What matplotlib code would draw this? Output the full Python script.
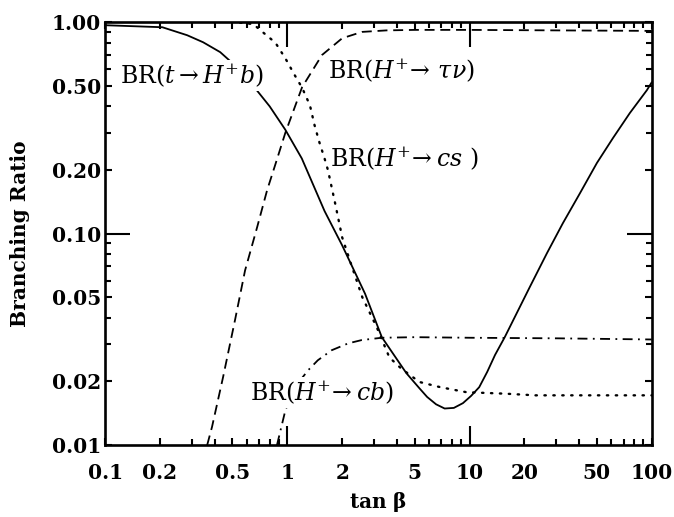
import numpy as np
import matplotlib
matplotlib.use("Agg")
import matplotlib.pyplot as plt
import matplotlib.ticker as ticker

plt.rcParams.update({
    "font.family": "DejaVu Serif",
    "mathtext.fontset": "dejavuserif",
})

# BR(t -> H+ b), solid
tanb_thb = [0.1, 0.206, 0.282, 0.345, 0.428, 0.55, 0.665, 0.8, 0.975, 1.2, 1.6, 2.0,
            2.67, 3.3, 4.5, 5.3, 5.85, 6.55, 7.3, 8.2, 9.2, 10.2, 11.3, 12.5, 13.8, 15.6,
            21.4, 26.6, 32.5, 40.3, 50.0, 61.2, 75.8, 94.0, 100]
br_thb = [0.968, 0.947, 0.868, 0.804, 0.722, 0.595, 0.488, 0.40, 0.31, 0.227, 0.128,
          0.088, 0.052, 0.0324, 0.0219, 0.0186, 0.0169, 0.0156, 0.0149, 0.0150, 0.0158,
          0.0171, 0.0188, 0.0222, 0.0267, 0.0324, 0.0559, 0.0809, 0.112, 0.155, 0.216,
          0.283, 0.372, 0.477, 0.52]

# BR(H+ -> tau nu), dashed
tanb_taunu = [0.363, 0.386, 0.444, 0.516, 0.586, 0.682, 0.775, 0.857, 0.975, 1.205,
              1.55, 2.0, 2.57, 3.5, 5, 10, 30, 100]
br_taunu = [0.01, 0.0122, 0.021, 0.039, 0.067, 0.107, 0.161, 0.211, 0.30, 0.493,
            0.70, 0.84, 0.90, 0.915, 0.92, 0.92, 0.915, 0.91]

# BR(H+ -> c s), dotted
tanb_cs = [0.55, 0.65, 0.73, 0.86, 0.975, 1.1, 1.205, 1.33, 1.41, 1.5, 1.6, 1.67, 1.83,
           2.0, 2.2, 2.58, 3.1, 3.63, 4.2, 5.3, 6.9, 9.6, 16, 23, 50, 100]
br_cs = [0.995, 0.98, 0.9, 0.8, 0.675, 0.56, 0.49, 0.405, 0.326, 0.27, 0.227, 0.2, 0.139,
         0.096, 0.075, 0.05, 0.036, 0.026, 0.0231, 0.0199, 0.0188, 0.0178, 0.0175,
         0.0172, 0.0172, 0.0172]

# BR(H+ -> c b), dash-dot
tanb_cb = [0.877, 0.975, 1.1, 1.3, 1.47, 1.75, 2.16, 2.56, 3.3, 5, 10, 30, 100]
br_cb = [0.01, 0.0146, 0.0188, 0.0226, 0.0252, 0.0281, 0.0303, 0.0314, 0.0322,
         0.0324, 0.0322, 0.032, 0.0316]

xtick_vals = [0.1, 0.2, 0.5, 1, 2, 5, 10, 20, 50, 100]
xtick_labels = ["0.1", "0.2", "0.5", "1", "2", "5", "10", "20", "50", "100"]
ytick_vals = [0.01, 0.02, 0.05, 0.1, 0.2, 0.5, 1.0]
ytick_labels = ["0.01", "0.02", "0.05", "0.10", "0.20", "0.50", "1.00"]

fig = plt.figure(figsize=(6.74, 5.17), dpi=100)
ax = fig.add_axes([0.156, 0.139, 0.811, 0.818])

lw = 1.3
ax.plot(tanb_thb, br_thb, color="black", lw=lw, solid_capstyle="round",
        solid_joinstyle="round")
ax.plot(tanb_taunu, br_taunu, color="black", lw=lw, linestyle=(0, (5.5, 3.2)))
ax.plot(tanb_cs, br_cs, color="black", lw=lw * 1.3, linestyle=(0, (0.6, 3.2)),
        dash_capstyle="round")
ax.plot(tanb_cb, br_cb, color="black", lw=lw, linestyle=(0, (5.5, 3, 1, 3)))

ax.set_xscale("log")
ax.set_yscale("log")
ax.set_xlim(0.1, 100)
ax.set_ylim(0.01, 1.0)

ax.xaxis.set_major_locator(ticker.FixedLocator(xtick_vals))
ax.xaxis.set_major_formatter(ticker.FixedFormatter(xtick_labels))
ax.yaxis.set_major_locator(ticker.FixedLocator(ytick_vals))
ax.yaxis.set_major_formatter(ticker.FixedFormatter(ytick_labels))
ax.xaxis.set_minor_locator(ticker.LogLocator(base=10, subs=[3, 4, 6, 7, 8, 9], numticks=20))
ax.yaxis.set_minor_locator(ticker.LogLocator(base=10, subs=[3, 4, 6, 7, 8, 9], numticks=20))
ax.xaxis.set_minor_formatter(ticker.NullFormatter())
ax.yaxis.set_minor_formatter(ticker.NullFormatter())

ax.tick_params(which="both", direction="in", top=True, right=True, width=1.5)
ax.tick_params(which="major", length=5)
ax.tick_params(which="minor", length=4.5)
ax.tick_params(axis="x", which="major", pad=13, labelsize=14.5)
ax.tick_params(axis="y", which="major", pad=3, labelsize=14.5)
for lab in ax.get_xticklabels() + ax.get_yticklabels():
    lab.set_fontweight("bold")

# long ticks at 1, 10 and 0.1
for t in ax.xaxis.get_major_ticks():
    if t.get_loc() in (1, 10):
        t.tick1line.set_markersize(14)
        t.tick2line.set_markersize(18)
for t in ax.yaxis.get_major_ticks():
    if abs(t.get_loc() - 0.1) < 1e-9:
        t.tick1line.set_markersize(18)
        t.tick2line.set_markersize(18)

for s in ax.spines.values():
    s.set_linewidth(1.9)

ax.set_xlabel(r"tan $\mathbf{\beta}$", fontsize=14.5, fontweight="bold", labelpad=5)
ax.set_ylabel("Branching Ratio", fontsize=14.5, fontweight="bold", labelpad=16)

box = dict(facecolor="white", edgecolor="none", pad=1.0)
fs = 17
ax.text(0.121, 0.56, r"BR($t\rightarrow H^{+}b$)", fontsize=fs, ha="left", va="center",
        bbox=box, zorder=5)
ax.text(1.67, 0.593, r"BR($H^{+}\!\rightarrow\,\tau\nu$)", fontsize=fs, ha="left",
        va="center", bbox=box, zorder=5)
ax.text(1.72, 0.227, r"BR($H^{+}\!\rightarrow cs$ )", fontsize=fs, ha="left", va="center",
        bbox=box, zorder=5)
ax.text(0.624, 0.0178, r"BR($H^{+}\!\rightarrow cb$)", fontsize=fs, ha="left", va="center",
        bbox=box, zorder=5)

fig.savefig("out.png", dpi=100)
